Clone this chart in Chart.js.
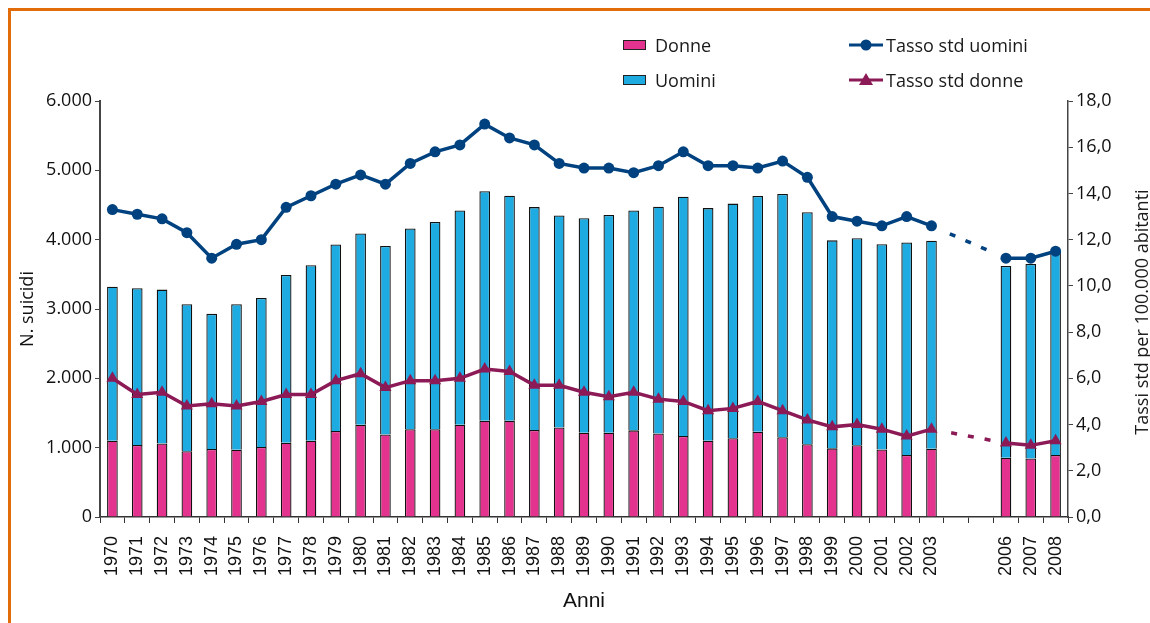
<!DOCTYPE html>
<html>
<head>
<meta charset="utf-8">
<script src="https://cdn.jsdelivr.net/npm/chart.js@4"></script>
<style>
  html, body { margin: 0; padding: 0; background: #fff; }
  #wrap { position: relative; width: 1150px; height: 623px; overflow: hidden; background: #fff; }
  #frame { position: absolute; left: 8px; top: 8px; width: 1200px; height: 700px;
           border-top: 3px solid #E36C0A; border-left: 3px solid #E36C0A; box-sizing: border-box; }
  #c { position: absolute; left: 0; top: 0; }
  .leg { position: absolute; font-family: "Open Sans", sans-serif; font-size: 18px; color: #1a1a1a;
         height: 24px; line-height: 24px; white-space: nowrap; }
  .leg .box { position: absolute; left: 0; top: 7px; width: 23px; height: 10px; border: 1px solid #222; box-sizing: border-box; }
  .leg svg { position: absolute; left: 0; top: 0; }
  .leg .txt { position: absolute; top: 0; }
  #rtitle { position: absolute; width: 320px; height: 24px; line-height: 24px; text-align: center;
            font-family: "Open Sans", sans-serif; font-size: 18px; color: #1a1a1a;
            left: 981px; top: 300px; transform: rotate(-90deg); transform-origin: 50% 50%; white-space: nowrap; }
</style>
</head>
<body>
<div id="wrap">
  <div id="frame"></div>
  <canvas id="c" width="1150" height="623"></canvas>
  <div id="legend"></div>
  <div id="rtitle"></div>
</div>
<script>
// ---- Data ----
const years = ['1970','1971','1972','1973','1974','1975','1976','1977','1978','1979',
               '1980','1981','1982','1983','1984','1985','1986','1987','1988','1989',
               '1990','1991','1992','1993','1994','1995','1996','1997','1998','1999',
               '2000','2001','2002','2003','2004','2005','2006','2007','2008'];
const tickLabels = ['1970','1971','1972','1973','1974','1975','1976','1977','1978','1979',
               '1980','1981','1982','1983','1984','1985','1986','1987','1988','1989',
               '1990','1991','1992','1993','1994','1995','1996','1997','1998','1999',
               '2000','2001','2002','2003','','','2006','2007','2008'];
const donne = [1100,1040,1060,950,980,970,1010,1070,1100,1240,
               1330,1190,1265,1265,1330,1390,1390,1255,1290,1215,
               1215,1250,1205,1170,1100,1135,1230,1150,1050,990,
               1035,975,895,985,null,null,855,845,895];
const uomini = [2220,2260,2220,2120,1950,2100,2150,2420,2530,2690,
                2760,2720,2895,2990,3090,3310,3245,3215,3060,3095,
                3140,3170,3270,3450,3355,3385,3400,3510,3345,3000,
                2985,2960,3065,3000,null,null,2765,2805,2935];
const tassoUomini = [13.3,13.1,12.9,12.3,11.2,11.8,12.0,13.4,13.9,14.4,
                     14.8,14.4,15.3,15.8,16.1,17.0,16.4,16.1,15.3,15.1,
                     15.1,14.9,15.2,15.8,15.2,15.2,15.1,15.4,14.7,13.0,
                     12.8,12.6,13.0,12.6,null,null,11.2,11.2,11.5];
const tassoDonne = [6.0,5.3,5.4,4.8,4.9,4.8,5.0,5.3,5.3,5.9,
                    6.2,5.6,5.9,5.9,6.0,6.4,6.3,5.7,5.7,5.4,
                    5.2,5.4,5.1,5.0,4.6,4.7,5.0,4.6,4.2,3.9,
                    4.0,3.8,3.5,3.8,null,null,3.2,3.1,3.3];
const seriesNames = ['Donne', 'Uomini', 'Tasso std uomini', 'Tasso std donne'];
const leftTitle = 'N. suicidi';
const rightTitle = 'Tassi std per 100.000 abitanti';
const xTitle = 'Anni';

// ---- Styles ----
const PINK = '#E4338E', BLUE = '#1DABE2', NAVY = '#00427F', PLUM = '#8C1A56';
const gapDash = [0, 20, 6, 11, 6, 11, 6, 40];
const dashGap = ctx => (ctx.p0.skip || ctx.p1.skip) ? gapDash : undefined;
const numFont = { family: 'Open Sans', size: 18 };
const barBorder = { top: 1.3, left: 1.3, right: 1.3, bottom: 0 };

const fmtThousands = v => String(v).replace(/\B(?=(\d{3})+(?!\d))/g, '.');
const fmtRate = v => Number(v).toFixed(1).replace('.', ',');

const chart = new Chart(document.getElementById('c'), {
  data: {
    labels: years,
    datasets: [
      { type: 'bar', label: seriesNames[0], data: donne, yAxisID: 'y', order: 2,
        backgroundColor: PINK, borderColor: '#111', borderWidth: barBorder, borderSkipped: false,
        barPercentage: 0.43, categoryPercentage: 1 },
      { type: 'bar', label: seriesNames[1], data: uomini, yAxisID: 'y', order: 2,
        backgroundColor: BLUE, borderColor: '#111', borderWidth: barBorder, borderSkipped: false,
        barPercentage: 0.43, categoryPercentage: 1 },
      { type: 'line', label: seriesNames[2], data: tassoUomini, yAxisID: 'y1', order: 0,
        borderColor: NAVY, backgroundColor: NAVY, borderWidth: 3.5, tension: 0,
        pointStyle: 'circle', pointRadius: 5.5, pointBackgroundColor: NAVY, pointBorderWidth: 0,
        spanGaps: true, segment: { borderDash: dashGap } },
      { type: 'line', label: seriesNames[3], data: tassoDonne, yAxisID: 'y1', order: 0,
        borderColor: PLUM, backgroundColor: PLUM, borderWidth: 3.5, tension: 0,
        pointStyle: 'triangle', pointRadius: 7, pointBackgroundColor: PLUM, pointBorderWidth: 0,
        spanGaps: true, segment: { borderDash: dashGap } }
    ]
  },
  options: {
    responsive: false,
    animation: false,
    devicePixelRatio: 1,
    layout: { padding: { top: 101, left: 0, right: 0, bottom: 0 } },
    plugins: { legend: { display: false }, tooltip: { enabled: false } },
    scales: {
      x: {
        stacked: true, offset: true,
        grid: { display: true, drawOnChartArea: false, drawTicks: true, tickLength: 6,
                color: '#333', lineWidth: 1, offset: true },
        border: { display: true, color: '#333', width: 1.5 },
        ticks: { autoSkip: false, minRotation: 90, maxRotation: 90, padding: 13,
                 font: { family: 'Liberation Sans', size: 18 }, color: '#111',
                 callback: (v, i) => tickLabels[i] },
        title: { display: true, text: xTitle, color: '#111',
                 font: { family: 'Liberation Sans', size: 21 }, padding: { top: 0, bottom: 9 } },
        afterFit: s => { s.height = 106; }
      },
      y: {
        position: 'left', stacked: true, min: 0, max: 6000,
        grid: { display: true, drawOnChartArea: false, drawTicks: true, tickLength: 5, color: '#444' },
        border: { display: true, color: '#444', width: 2 },
        ticks: { stepSize: 1000, padding: 3, font: numFont, color: '#111', callback: v => fmtThousands(v) },
        title: { display: true, text: leftTitle, color: '#111', font: numFont, padding: { top: 17 } },
        afterFit: s => { s.width = 100; }
      },
      y1: {
        position: 'right', min: 0, max: 18,
        grid: { display: true, drawOnChartArea: false, drawTicks: true, tickLength: 5, color: '#444' },
        border: { display: true, color: '#444', width: 1.5 },
        ticks: { stepSize: 2, padding: 3, font: numFont, color: '#111', callback: v => fmtRate(v) },
        afterFit: s => { s.width = 82; }
      }
    }
  }
});

// ---- HTML legend (2 x 2 layout) built from the chart's datasets ----
const legendPos = [
  { left: 623, top: 33 }, { left: 623, top: 68 },
  { left: 849, top: 33 }, { left: 849, top: 68 }
];
const legend = document.getElementById('legend');
chart.data.datasets.forEach((ds, i) => {
  const item = document.createElement('div');
  item.className = 'leg';
  item.style.left = legendPos[i].left + 'px';
  item.style.top = legendPos[i].top + 'px';
  let sym = '';
  let txtLeft = 32;
  if (ds.type === 'bar') {
    sym = '<span class="box" style="background:' + ds.backgroundColor + '"></span>';
  } else {
    txtLeft = 37;
    const marker = ds.pointStyle === 'circle'
      ? '<circle cx="17" cy="12" r="5.5" fill="' + ds.borderColor + '"/>'
      : '<polygon points="17,5 24,17 10,17" fill="' + ds.borderColor + '"/>';
    sym = '<svg width="36" height="24"><line x1="0" y1="12" x2="34" y2="12" stroke="' + ds.borderColor +
          '" stroke-width="3"/>' + marker + '</svg>';
  }
  item.innerHTML = sym + '<span class="txt" style="left:' + txtLeft + 'px"></span>';
  item.querySelector('.txt').textContent = ds.label;
  legend.appendChild(item);
});
document.getElementById('rtitle').textContent = rightTitle;
</script>
</body>
</html>
